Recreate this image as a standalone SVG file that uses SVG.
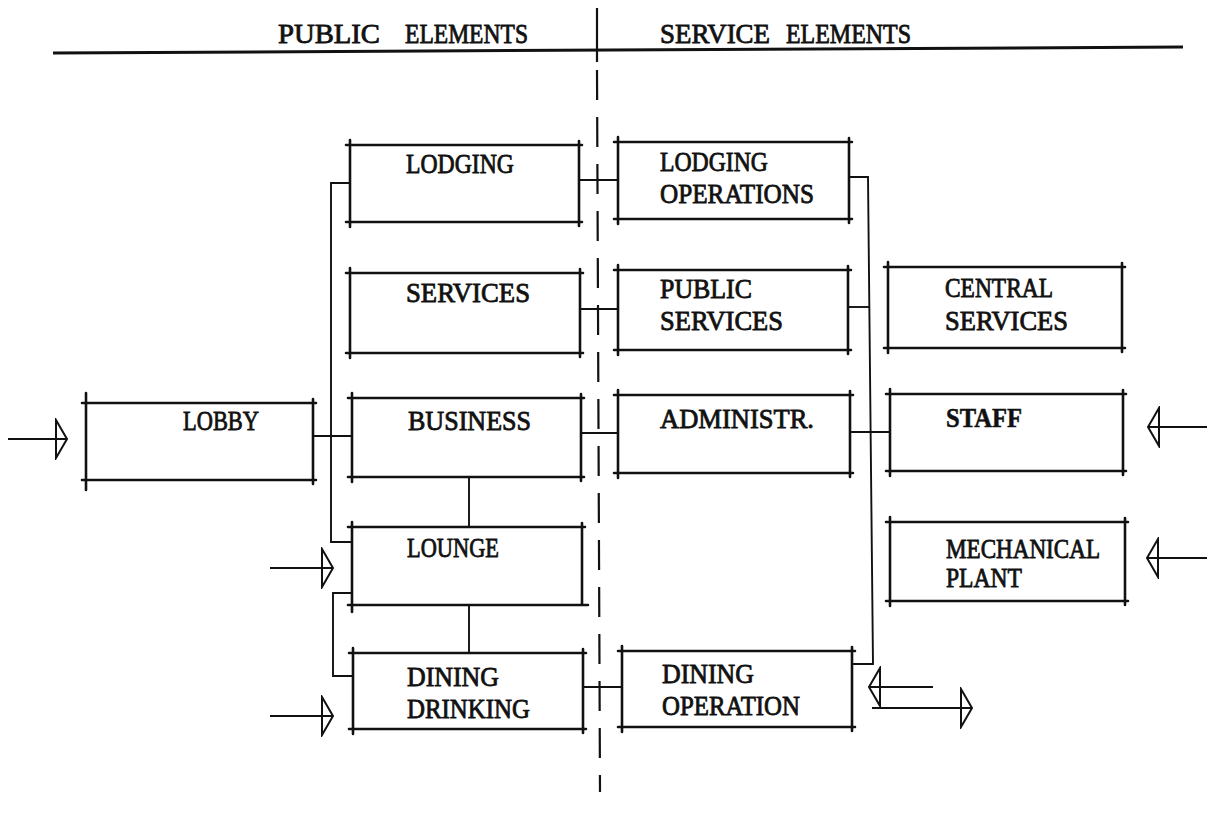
<svg xmlns="http://www.w3.org/2000/svg" width="1209" height="814" viewBox="0 0 1209 814">
<style>
  .bg{fill:#ffffff}
  .box{fill:none;stroke:#111;stroke-width:2.6;stroke-linecap:round}
  .con{fill:none;stroke:#111;stroke-width:1.9}
  .hdr{fill:none;stroke:#111;stroke-width:3}
  .div{fill:none;stroke:#111;stroke-width:2.2}
  .t{font-family:"Liberation Serif","Times New Roman",serif;font-size:27px;fill:#111;stroke:#111;stroke-width:0.8}
  .b{font-weight:bold;stroke-width:0.5}
</style>
<defs>
  <marker id="ah" markerUnits="userSpaceOnUse" viewBox="0 0 16 42" markerWidth="16" markerHeight="42" refX="13" refY="21" orient="auto">
    <path d="M2,2 L13,21 L2,40 Z" fill="none" stroke="#111" stroke-width="2"/>
  </marker>
</defs>
<rect class="bg" x="0" y="0" width="1209" height="814"/>

<g id="header">
  <text class="t" x="278" y="43" textLength="102" lengthAdjust="spacingAndGlyphs">PUBLIC</text>
  <text class="t" x="405" y="43" textLength="123" lengthAdjust="spacingAndGlyphs">ELEMENTS</text>
  <text class="t" x="660" y="43" textLength="110" lengthAdjust="spacingAndGlyphs">SERVICE</text>
  <text class="t" x="786" y="43" textLength="125" lengthAdjust="spacingAndGlyphs">ELEMENTS</text>
  <path class="hdr" d="M53,53 L1183,47"/>
  <path class="div" d="M597,8 V62"/>
  <path class="div" d="M597,70 L600,792" stroke-dasharray="30 17"/>
</g>

<g id="connectors">
  <path class="con" d="M350,183 H331 V542 H352"/>
  <path class="con" d="M579,180 H618"/>
  <path class="con" d="M580,309 H618"/>
  <path class="con" d="M313,436 H352"/>
  <path class="con" d="M581,433 H618"/>
  <path class="con" d="M469,477 V527"/>
  <path class="con" d="M469,605 V653"/>
  <path class="con" d="M352,593 H333 V676 H353"/>
  <path class="con" d="M583,687 H622"/>
  <path class="con" d="M849,177 H868 L873,664 H852"/>
  <path class="con" d="M848,307 H869"/>
  <path class="con" d="M850,432 H890"/>
  <path class="con" d="M8,439 H67" marker-end="url(#ah)"/>
  <path class="con" d="M270,568 H333" marker-end="url(#ah)"/>
  <path class="con" d="M270,716 H333" marker-end="url(#ah)"/>
  <path class="con" d="M1207,427 H1148" marker-end="url(#ah)"/>
  <path class="con" d="M1207,558 H1147" marker-end="url(#ah)"/>
  <path class="con" d="M933,687 H869" marker-end="url(#ah)"/>
  <path class="con" d="M872,708 H972" marker-end="url(#ah)"/>
</g>

<g id="lodging">
  <path class="box" d="M346,145 H582 M579,141 V226 M582,222 H346 M350,227 V140"/>
  <text class="t" x="406" y="173" textLength="108" lengthAdjust="spacingAndGlyphs">LODGING</text>
</g>
<g id="services">
  <path class="box" d="M346,273 H583 M580,269 V357 M583,353 H346 M350,358 V268"/>
  <text class="t" x="406" y="302" textLength="124" lengthAdjust="spacingAndGlyphs">SERVICES</text>
</g>
<g id="lobby">
  <path class="box" d="M82,403 H316 M313,399 V484 M316,480 H82 M86,490 V393"/>
  <text class="t" x="183" y="430" textLength="76" lengthAdjust="spacingAndGlyphs">LOBBY</text>
</g>
<g id="business">
  <path class="box" d="M348,398 H584 M581,394 V481 M584,477 H348 M352,482 V393"/>
  <text class="t" x="408" y="430" textLength="123" lengthAdjust="spacingAndGlyphs">BUSINESS</text>
</g>
<g id="lounge">
  <path class="box" d="M348,527 H585 M582,523 V605 M588,605 H348 M352,612 V522"/>
  <text class="t" x="407" y="557" textLength="92" lengthAdjust="spacingAndGlyphs">LOUNGE</text>
</g>
<g id="dining-drinking">
  <path class="box" d="M349,653 H586 M583,649 V733 M586,729 H349 M353,734 V648"/>
  <text class="t" x="407" y="686" textLength="92" lengthAdjust="spacingAndGlyphs">DINING</text>
  <text class="t" x="407" y="718" textLength="123" lengthAdjust="spacingAndGlyphs">DRINKING</text>
</g>
<g id="lodging-operations">
  <path class="box" d="M614,142 H852 M849,138 V223 M852,219 H614 M618,224 V137"/>
  <text class="t" x="660" y="171" textLength="108" lengthAdjust="spacingAndGlyphs">LODGING</text>
  <text class="t" x="660" y="203" textLength="154" lengthAdjust="spacingAndGlyphs">OPERATIONS</text>
</g>
<g id="public-services">
  <path class="box" d="M614,270 H851 M848,266 V354 M851,350 H614 M618,355 V265"/>
  <text class="t" x="660" y="298" textLength="92" lengthAdjust="spacingAndGlyphs">PUBLIC</text>
  <text class="t" x="660" y="330" textLength="123" lengthAdjust="spacingAndGlyphs">SERVICES</text>
</g>
<g id="administr">
  <path class="box" d="M614,395 H853 M850,391 V477 M853,473 H614 M618,478 V390"/>
  <text class="t" x="660" y="428" textLength="154" lengthAdjust="spacingAndGlyphs">ADMINISTR.</text>
</g>
<g id="dining-operation">
  <path class="box" d="M618,651 H855 M852,647 V731 M855,727 H618 M622,732 V646"/>
  <text class="t" x="662" y="683" textLength="92" lengthAdjust="spacingAndGlyphs">DINING</text>
  <text class="t" x="662" y="715" textLength="138" lengthAdjust="spacingAndGlyphs">OPERATION</text>
</g>
<g id="central-services">
  <path class="box" d="M884,267 H1125 M1122,263 V352 M1125,348 H884 M888,353 V262"/>
  <text class="t" x="945" y="297" textLength="108" lengthAdjust="spacingAndGlyphs">CENTRAL</text>
  <text class="t" x="945" y="330" textLength="123" lengthAdjust="spacingAndGlyphs">SERVICES</text>
</g>
<g id="staff">
  <path class="box" d="M886,394 H1126 M1123,390 V475 M1126,471 H886 M890,476 V389"/>
  <text class="t b" x="946" y="427" textLength="76" lengthAdjust="spacingAndGlyphs">STAFF</text>
</g>
<g id="mechanical-plant">
  <path class="box" d="M886,522 H1128 M1125,518 V605 M1128,601 H886 M890,606 V517"/>
  <text class="t" x="946" y="558" textLength="154" lengthAdjust="spacingAndGlyphs">MECHANICAL</text>
  <text class="t" x="946" y="587" textLength="76" lengthAdjust="spacingAndGlyphs">PLANT</text>
</g>
</svg>
